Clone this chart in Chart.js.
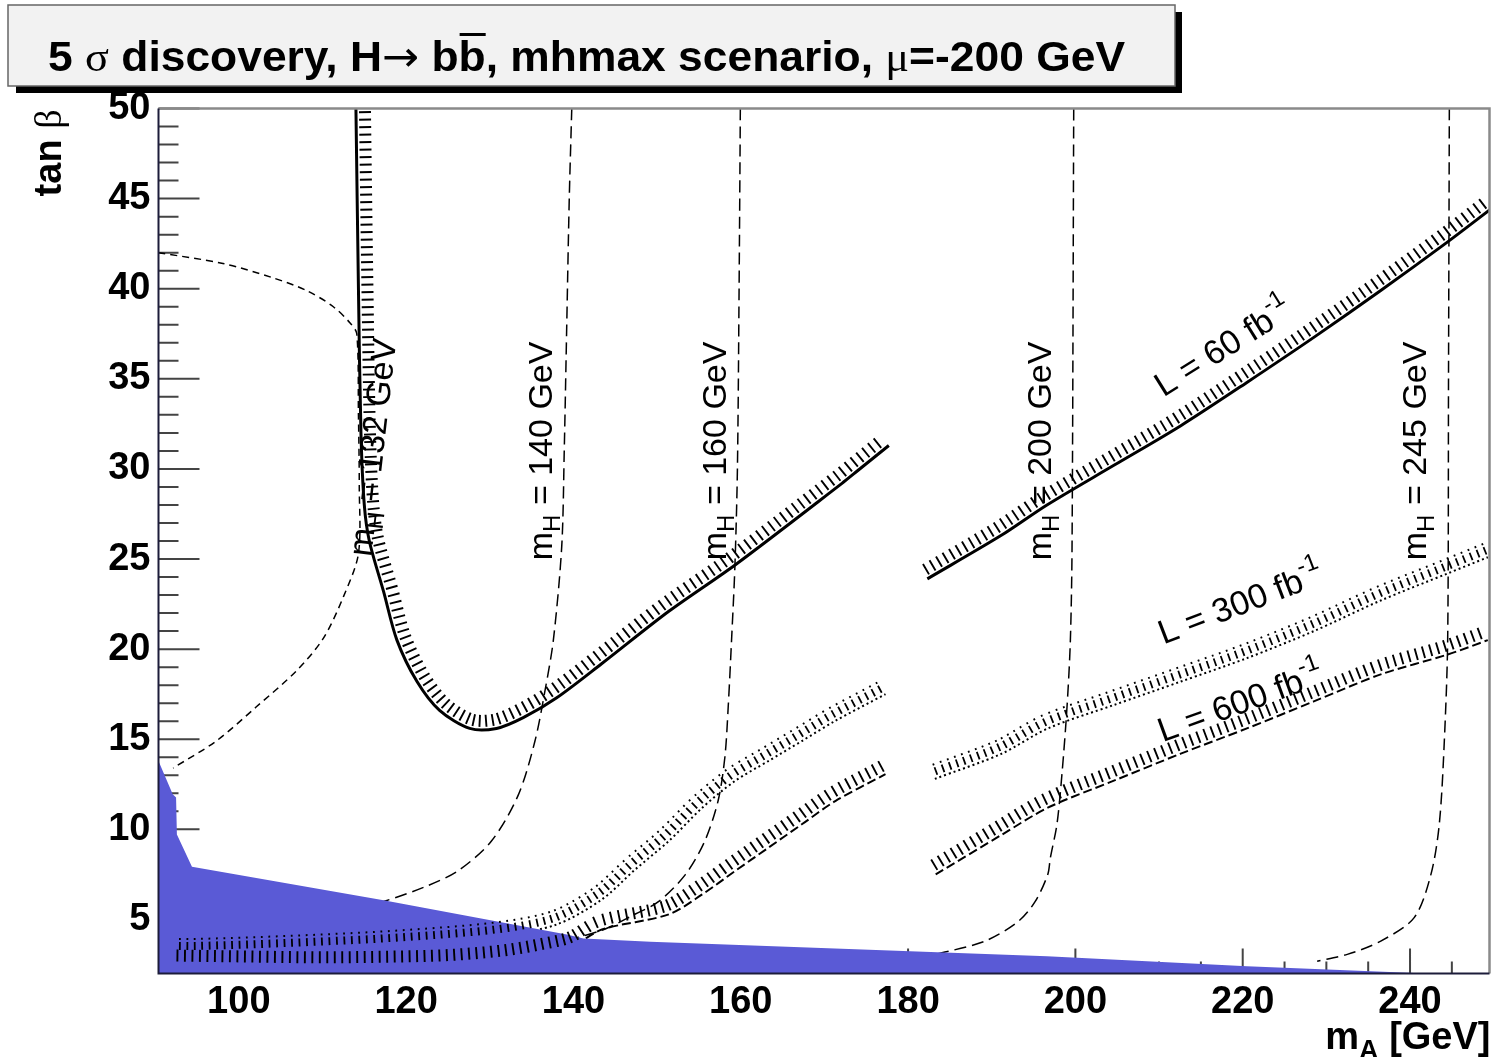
<!DOCTYPE html>
<html>
<head>
<meta charset="utf-8">
<script src="https://cdn.jsdelivr.net/npm/chart.js@4.4.0/dist/chart.umd.min.js"></script>
<style>
  html, body { margin: 0; padding: 0; background: #fff; }
  canvas { display: block; }
</style>
</head>
<body>
<canvas id="plot" width="1493" height="1057"></canvas>
<script>
// LEP excluded region (filled down to the bottom of the axis)
const lepMA = [90.4, 92.1, 92.5, 92.6, 94.4, 117.3, 139.2, 141.2, 149.2, 196.6, 220.5, 240.5, 249.5];
const lepTB = [13.79, 11.94, 11.76, 9.72, 7.92, 6.06, 4.17, 3.94, 3.76, 2.96, 2.4, 2.03, 1.95];

// m_H iso-lines (dashed)
const mh132MA = [90.4, 98.1, 104.1, 108.1, 111.3, 113.3, 114.1, 114.3, 114.4, 114.3, 112.5, 110.1, 106.9, 102.1, 97.3, 92.15];
const mh132TB = [42.0, 41.4, 40.6, 39.9, 39.0, 38.1, 37.5, 33.0, 29.0, 25.3, 22.9, 20.6, 18.8, 16.8, 14.9, 13.4];
const mh140MA = [139.8, 139.5, 139.2, 138.9, 138.6, 137.6, 136.6, 135.4, 133.4, 130.2, 126.2, 122.2, 117.3, 110.1, 102.1, 94.1, 92.5];
const mh140TB = [50, 45, 38, 31, 25.7, 20.5, 17.7, 14.9, 11.9, 9.35, 7.7, 6.8, 6.0, 5.1, 4.5, 4.07, 3.98];
const mh160MA = [159.95, 159.8, 159.6, 159.3, 158.9, 158.5, 158.1, 157.3, 155.7, 153.4, 150.2, 147.4, 143.4, 137, 130, 124, 120];
const mh160TB = [50, 40, 30, 24.6, 20.5, 16.8, 14.0, 11.6, 9.35, 7.5, 6.0, 5.3, 4.4, 3.6, 3.0, 2.6, 2.45];
const mh200MA = [199.8, 199.6, 199.4, 199.0, 198.4, 197.8, 197.0, 196.7, 195.2, 193.2, 189.2, 183.3, 177.7];
const mh200TB = [50, 25.7, 20.5, 16.8, 13.1, 10.3, 8.4, 7.5, 6.0, 4.9, 3.8, 3.06, 2.4];
const mh245MA = [244.7, 244.6, 244.5, 244.1, 243.5, 242.5, 240.5, 236.5, 232.5, 228.9];
const mh245TB = [50, 35, 20.5, 14.9, 10.3, 7.5, 5.1, 3.8, 3.06, 2.68];

// 5 sigma discovery contours
const l60aMA = [114.0, 114.3, 114.6, 115.0, 115.6, 117.3, 118.9, 121.3, 124.0, 127.6, 130.8, 134.0, 138.0, 143.4, 151.4, 159.4, 172.1, 173.7, 177.7];
const l60aTB = [50, 40, 32, 28, 26.0, 23.2, 20.5, 18.2, 16.6, 15.6, 15.6, 16.2, 17.3, 19.2, 22.1, 24.7, 29.2, 29.8, 31.3];
const l60bMA = [182.3, 191.1, 196.6, 204.6, 212.6, 220.5, 228.5, 236.5, 244.5, 249.6];
const l60bTB = [23.9, 26.3, 28.0, 30.2, 32.4, 34.8, 37.3, 39.9, 42.6, 44.4];
const l300aMA = [92.5, 95.1, 107.1, 119.1, 131.0, 138.0, 143.4, 147.4, 151.4, 155.4, 159.3, 163.3, 167.3, 171.3, 177.3];
const l300aTB = [3.14, 3.14, 3.33, 3.61, 4.07, 4.72, 6.11, 7.78, 9.35, 11.2, 12.68, 13.79, 14.9, 16.02, 17.5];
const l300bMA = [183.2, 191.2, 196.7, 204.6, 212.6, 220.5, 228.5, 236.5, 244.5, 249.3];
const l300bTB = [12.8, 14.2, 15.6, 16.9, 18.2, 19.5, 21.0, 22.7, 24.2, 25.1];
const l600aMA = [92.2, 100, 110, 120, 126, 132, 137, 140, 143.4, 151.4, 155.4, 159.3, 163.3, 167.3, 171.3, 177.3];
const l600aTB = [2.5, 2.45, 2.4, 2.45, 2.55, 2.8, 3.2, 3.55, 4.44, 5.28, 6.39, 7.68, 8.98, 10.28, 11.57, 13.06];
const l600bMA = [183.3, 191.2, 196.7, 204.6, 212.6, 220.5, 228.5, 236.5, 244.5, 249.3];
const l600bTB = [7.5, 9.7, 11.2, 12.7, 14.2, 15.6, 17.1, 18.6, 19.7, 20.5];

// curve labels, anchored in (mA, tan beta)
const mhLabels = [
  { mass: '132', x: 115.9, y: 31.2, rot: -83.4 },
  { mass: '140', x: 136.0, y: 31.0, rot: -90 },
  { mass: '160', x: 156.8, y: 31.0, rot: -90 },
  { mass: '200', x: 195.6, y: 31.0, rot: -90 },
  { mass: '245', x: 240.5, y: 31.0, rot: -90 }
];
const lumiLabels = [
  { lumi: '60', x: 217.6, y: 36.8, rot: -32 },
  { lumi: '300', x: 219.7, y: 22.6, rot: -21 },
  { lumi: '600', x: 219.7, y: 17.1, rot: -20 }
];

const SANS = '"Liberation Sans", Arial, Helvetica, sans-serif';
const SYMB = '"Liberation Serif", "DejaVu Serif", serif';

function pts(xs, ys) {
  return xs.map((x, i) => ({ x: x, y: ys[i] }));
}

function mhLine(xs, ys, dash) {
  return { data: pts(xs, ys), showLine: true, pointRadius: 0, borderColor: '#000',
           borderWidth: 1.5, borderDash: dash, tension: 0.3, fill: false };
}

function lumiLine(xs, ys, width, dash, hatch) {
  return { data: pts(xs, ys), showLine: true, pointRadius: 0, borderColor: '#000',
           borderWidth: width, borderDash: dash, tension: 0.3, fill: false, hatch: hatch };
}

const hatch60 = { gap: 3, len: 12, step: 7.5, width: 1.9, dash: [] };
const hatch300 = { gap: 3, len: 12, step: 7.5, width: 1.8, dash: [8, 2] };
const hatch600 = { gap: 3, len: 12, step: 7.5, width: 1.9, dash: [] };

// draws a run of text pieces with different fonts / offsets
function richText(ctx, pieces, x, y, align) {
  let total = 0;
  pieces.forEach(p => { ctx.font = p.font; p.w = ctx.measureText(p.t).width; total += p.w; });
  let cx = align === 'right' ? x - total : align === 'center' ? x - total / 2 : x;
  pieces.forEach(p => {
    ctx.font = p.font;
    ctx.fillText(p.t, cx, y + (p.dy || 0));
    if (p.over) {
      ctx.fillRect(cx + 1, y - p.over, p.w - 1, 3);
    }
    cx += p.w;
  });
  return total;
}

const rootTicks = {
  id: 'rootTicks',
  beforeDatasetsDraw(chart) {
    const { ctx, chartArea: a, scales: { x, y } } = chart;
    ctx.save();
    ctx.strokeStyle = '#444';
    ctx.lineWidth = 2;
    ctx.beginPath();
    for (let v = 95; v <= 245; v += 5) {
      const px = x.getPixelForValue(v);
      const len = v % 20 === 0 ? 25 : 12;
      ctx.moveTo(px, a.bottom);
      ctx.lineTo(px, a.bottom - len);
    }
    for (let v = 3; v <= 50; v++) {
      const py = y.getPixelForValue(v);
      const len = v % 5 === 0 ? 41 : 20;
      ctx.moveTo(a.left, py);
      ctx.lineTo(a.left + len, py);
    }
    ctx.stroke();
    ctx.restore();
  }
};

const hatching = {
  id: 'hatching',
  afterDatasetsDraw(chart) {
    const { ctx, chartArea: a } = chart;
    ctx.save();
    ctx.beginPath();
    ctx.rect(a.left, a.top, a.right - a.left, a.bottom - a.top);
    ctx.clip();
    chart.data.datasets.forEach((ds, i) => {
      if (!ds.hatch) return;
      const h = ds.hatch;
      const els = chart.getDatasetMeta(i).data;
      const poly = [];
      for (let k = 0; k < els.length - 1; k++) {
        const p = els[k], q = els[k + 1];
        const c1x = p.cp2x ?? p.x, c1y = p.cp2y ?? p.y;
        const c2x = q.cp1x ?? q.x, c2y = q.cp1y ?? q.y;
        for (let s = 0; s < 16; s++) {
          const t = s / 16, u = 1 - t;
          poly.push([
            u * u * u * p.x + 3 * u * u * t * c1x + 3 * u * t * t * c2x + t * t * t * q.x,
            u * u * u * p.y + 3 * u * u * t * c1y + 3 * u * t * t * c2y + t * t * t * q.y
          ]);
        }
      }
      const last = els[els.length - 1];
      poly.push([last.x, last.y]);

      ctx.strokeStyle = '#000';
      ctx.lineWidth = h.width;
      ctx.setLineDash(h.dash || []);
      ctx.beginPath();
      let acc = h.step / 2;
      for (let k = 0; k < poly.length - 1; k++) {
        const dx = poly[k + 1][0] - poly[k][0], dy = poly[k + 1][1] - poly[k][1];
        const seg = Math.hypot(dx, dy);
        if (seg < 1e-6) continue;
        const tx = dx / seg, ty = dy / seg;
        const nx = ty, ny = -tx;
        let d = acc;
        while (d <= seg) {
          const px = poly[k][0] + tx * d, py = poly[k][1] + ty * d;
          ctx.moveTo(px + nx * h.gap, py + ny * h.gap);
          ctx.lineTo(px + nx * (h.gap + h.len), py + ny * (h.gap + h.len));
          d += h.step;
        }
        acc = d - seg;
      }
      ctx.stroke();
    });
    ctx.restore();
  }
};

const decorations = {
  id: 'decorations',
  afterDraw(chart) {
    const { ctx, chartArea: a, scales: { x, y } } = chart;
    ctx.save();

    // frame
    ctx.lineWidth = 2.5;
    ctx.strokeStyle = '#8a8a8a';
    ctx.beginPath();
    ctx.moveTo(a.left, a.top); ctx.lineTo(a.right, a.top); ctx.lineTo(a.right, a.bottom);
    ctx.stroke();
    ctx.lineWidth = 2;
    ctx.strokeStyle = '#1c1c3a';
    ctx.beginPath();
    ctx.moveTo(a.left, a.top); ctx.lineTo(a.left, a.bottom); ctx.lineTo(a.right, a.bottom);
    ctx.stroke();

    // title box with shadow
    ctx.fillStyle = '#000';
    ctx.fillRect(1175, 12, 7, 81);
    ctx.fillRect(16, 86, 1166, 7);
    ctx.fillStyle = '#f2f2f2';
    ctx.fillRect(8, 5, 1167, 81);
    ctx.strokeStyle = '#666';
    ctx.lineWidth = 1.5;
    ctx.strokeRect(8, 5, 1167, 81);

    ctx.fillStyle = '#000';
    ctx.textBaseline = 'alphabetic';
    const TB = 'bold 42px ' + SANS, TS = '42px ' + SYMB, TA = '42px "DejaVu Sans", sans-serif';
    const titlePieces = [
      { t: '5 ', font: TB }, { t: 'σ', font: TS }, { t: ' discovery, H', font: TB },
      { t: '→', font: TA }, { t: ' b', font: TB }, { t: 'b', font: TB, over: 38 },
      { t: ', mhmax scenario, ', font: TB }, { t: 'μ', font: TS }, { t: '=-200 GeV', font: TB }
    ];
    let w = 0;
    titlePieces.forEach(p => { ctx.font = p.font; w += ctx.measureText(p.t).width; });
    ctx.save();
    ctx.translate(48, 71);
    ctx.scale(1077 / w, 1);
    richText(ctx, titlePieces, 0, 0, 'left');
    ctx.restore();

    // axis titles
    ctx.save();
    ctx.translate(61, a.top + 1);
    ctx.rotate(-Math.PI / 2);
    richText(ctx, [{ t: 'tan ', font: 'bold 38px ' + SANS }, { t: 'β', font: '38px ' + SYMB }], 0, 0, 'right');
    ctx.restore();
    richText(ctx, [
      { t: 'm', font: 'bold 38px ' + SANS }, { t: 'A', font: 'bold 27px ' + SANS, dy: 10 },
      { t: ' [GeV]', font: 'bold 38px ' + SANS }
    ], a.right + 1, 1049, 'right');

    // m_H labels
    const LF = '34px ' + SANS, LS = '24px ' + SANS;
    mhLabels.forEach(l => {
      ctx.save();
      ctx.translate(x.getPixelForValue(l.x), y.getPixelForValue(l.y));
      ctx.rotate(l.rot * Math.PI / 180);
      richText(ctx, [
        { t: 'm', font: LF }, { t: 'H', font: LS, dy: 8 }, { t: ' = ' + l.mass + ' GeV', font: LF }
      ], 0, 12, 'center');
      ctx.restore();
    });

    // luminosity labels
    lumiLabels.forEach(l => {
      ctx.save();
      ctx.translate(x.getPixelForValue(l.x), y.getPixelForValue(l.y));
      ctx.rotate(l.rot * Math.PI / 180);
      richText(ctx, [
        { t: 'L = ' + l.lumi + ' fb', font: LF }, { t: '-1', font: LS, dy: -16 }
      ], 0, 12, 'center');
      ctx.restore();
    });

    ctx.restore();
  }
};

const tickFont = { family: SANS, weight: 'bold', size: 38 };

new Chart(document.getElementById('plot'), {
  type: 'scatter',
  data: {
    datasets: [
      { data: pts(lepMA, lepTB), showLine: true, fill: 'start', backgroundColor: '#5a5ad6',
        borderWidth: 0, pointRadius: 0, tension: 0 },
      mhLine(mh132MA, mh132TB, [7, 5]),
      mhLine(mh140MA, mh140TB, [12, 6]),
      mhLine(mh160MA, mh160TB, [12, 6]),
      mhLine(mh200MA, mh200TB, [12, 6]),
      mhLine(mh245MA, mh245TB, [12, 6]),
      lumiLine(l60aMA, l60aTB, 3, [], hatch60),
      lumiLine(l60bMA, l60bTB, 3, [], hatch60),
      lumiLine(l300aMA, l300aTB, 2, [2, 3], hatch300),
      lumiLine(l300bMA, l300bTB, 2, [2, 3], hatch300),
      lumiLine(l600aMA, l600aTB, 2, [9, 4], hatch600),
      lumiLine(l600bMA, l600bTB, 2, [9, 4], hatch600)
    ]
  },
  options: {
    responsive: false,
    animation: false,
    devicePixelRatio: 1,
    layout: { padding: { top: 108.5, right: 3.5, left: 0, bottom: 0 } },
    plugins: { legend: { display: false }, tooltip: { enabled: false } },
    scales: {
      x: {
        type: 'linear', min: 90.4, max: 249.5,
        grid: { display: false, drawTicks: false },
        border: { display: false },
        ticks: { stepSize: 20, includeBounds: false, font: tickFont, color: '#000',
                 padding: 6, maxRotation: 0, autoSkip: false },
        afterFit(s) { s.height = 83.5; }
      },
      y: {
        type: 'linear', min: 2, max: 50,
        grid: { display: false, drawTicks: false },
        border: { display: false },
        ticks: { stepSize: 5, includeBounds: false, font: tickFont, color: '#000',
                 padding: 8, autoSkip: false },
        afterFit(s) { s.width = 158.5; }
      }
    }
  },
  plugins: [rootTicks, hatching, decorations]
});
</script>
</body>
</html>
